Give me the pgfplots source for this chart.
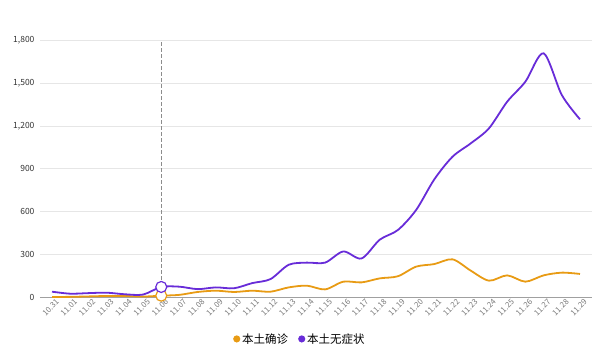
\documentclass[border=0pt]{standalone}
\usepackage{pgfplots}
\pgfplotsset{compat=1.18}
\usepackage{fontspec}
\setmainfont{Noto Sans CJK SC}
\definecolor{cOrange}{RGB}{232,155,20}
\definecolor{cPurple}{RGB}{104,44,216}
\definecolor{gridc}{RGB}{230,230,230}
\definecolor{axisc}{RGB}{160,160,160}
\definecolor{ticklab}{RGB}{120,120,120}
\begin{document}
\begin{tikzpicture}
\path[use as bounding box] (-40pt,-53.3pt) rectangle (561pt,297.7pt);
\begin{axis}[
  at={(0,0)}, anchor=south west,
  scale only axis, width=552pt, height=257.7pt,
  xmin=-0.66, xmax=29.66, ymin=0, ymax=1800,
  ytick={0,300,600,900,1200,1500,1800},
  xtick={0,...,29},
  xticklabels={10.31,11.01,11.02,11.03,11.04,11.05,11.06,11.07,11.08,11.09,11.10,11.11,11.12,11.13,11.14,11.15,11.16,11.17,11.18,11.19,11.20,11.21,11.22,11.23,11.24,11.25,11.26,11.27,11.28,11.29},
  x tick label style={rotate=45, anchor=north east, font=\fontsize{7.8}{8}\selectfont, text=ticklab, inner sep=1pt, xshift=3pt, yshift=-2pt},
  y tick label style={font=\fontsize{8.5}{9}\selectfont, text=black!80, xshift=-2pt},
  /pgf/number format/assume math mode=true,
  /pgf/number format/1000 sep={,},
  ymajorgrids, major grid style={gridc, line width=0.8pt},
  axis x line*=bottom, axis y line*=left,
  y axis line style={draw=none},
  x axis line style={axisc, line width=0.8pt, -},
  major tick length=0pt,
  tick style={draw=none},
  clip=false,
  legend style={at={(0.471,-0.16)}, anchor=center, draw=none, fill=none, legend columns=2,
     font=\fontsize{11.5}{13}\selectfont,
     /tikz/every even column/.append style={column sep=8pt}},
  legend cell align=left,
  legend image code/.code={\fill[#1] (5pt,0pt) circle (2.6pt);},
]
\addplot[color=cOrange, line width=1.8pt, smooth, tension=0.5] coordinates {
(0,5) (1,6) (2,9) (3,12) (4,12) (5,8) (6,14) (7,20) (8,40) (9,49) (10,40) (11,49) (12,42) (13,72) (14,84) (15,58) (16,112) (17,107) (18,135) (19,150) (20,217) (21,235) (22,268) (23,189) (24,119) (25,156) (26,112) (27,156) (28,175) (29,166)};
\addlegendentry{本土确诊}
\addplot[color=cPurple, line width=1.8pt, smooth, tension=0.5] coordinates {
(0,42) (1,28) (2,32) (3,35) (4,24) (5,22) (6,75) (7,77) (8,60) (9,72) (10,66) (11,102) (12,130) (13,230) (14,245) (15,245) (16,323) (17,274) (18,405) (19,473) (20,613) (21,827) (22,985) (23,1078) (24,1183) (25,1369) (26,1509) (27,1707) (28,1416) (29,1246)};
\addlegendentry{本土无症状}
\addplot[forget plot, color=black!45, line width=0.7pt, dash pattern=on 3.5pt off 2.5pt] coordinates {(6,0) (6,1800)};
\addplot[forget plot, only marks, mark=*, mark size=5.5pt, mark options={draw=cOrange, fill=white, line width=1.2pt}] coordinates {(6,14)};
\addplot[forget plot, only marks, mark=*, mark size=5.5pt, mark options={draw=cPurple, fill=white, line width=1.2pt}] coordinates {(6,75)};
\end{axis}
\end{tikzpicture}
\end{document}
